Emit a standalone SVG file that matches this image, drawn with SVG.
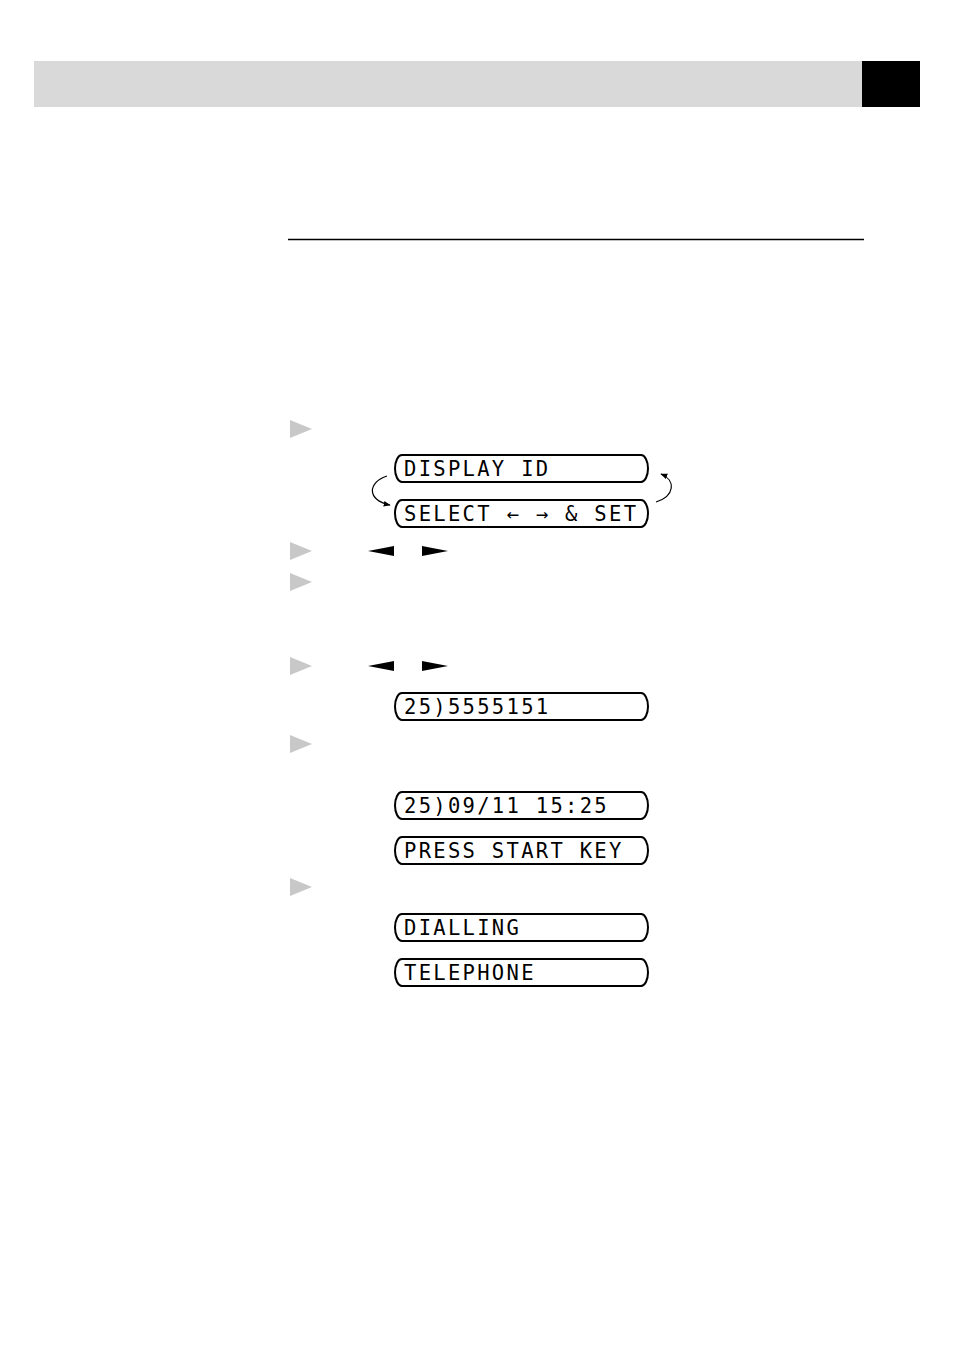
<svg xmlns="http://www.w3.org/2000/svg" width="954" height="1348" viewBox="0 0 954 1348">
<style>
.lcd{fill:#fff;stroke:#000;stroke-width:2}
.lt{font-family:"DejaVu Sans Mono","Liberation Mono",monospace;font-size:20.5px;letter-spacing:2.3px;fill:#000}
.bul{fill:#c8c8c8}
.con{fill:none;stroke:#000;stroke-width:1.2}
</style>
<defs>
<marker id="ah" viewBox="0 0 10 10" refX="9" refY="5" markerWidth="7" markerHeight="7" orient="auto" markerUnits="userSpaceOnUse">
<path d="M0,1 L10,5 L0,9 Z" fill="#000"/>
</marker>
</defs>
<rect x="34" y="61" width="828" height="46" fill="#d9d9d9"/>
<rect x="862" y="61" width="58" height="46" fill="#000"/>
<line x1="288" y1="239.5" x2="864" y2="239.5" stroke="#000" stroke-width="1.5"/>
<g id="bullets">
<polygon class="bul" points="290,420 312,429 290,438"/>
<polygon class="bul" points="290,542 312,551 290,560"/>
<polygon class="bul" points="290,573 312,582 290,591"/>
<polygon class="bul" points="290,657 312,666 290,675"/>
<polygon class="bul" points="290,735 312,744 290,753"/>
<polygon class="bul" points="290,878 312,887 290,896"/>
</g>
<g id="keys">
<polygon points="368,551 394,546 394,556" fill="#000"/>
<polygon points="422,546 448,551 422,556" fill="#000"/>
<polygon points="368,666 394,661 394,671" fill="#000"/>
<polygon points="422,661 448,666 422,671" fill="#000"/>
</g>
<g id="n1"><path class="lcd" d="M402,455 H641 A7,13.5 0 0 1 641,482 H402 A7,13.5 0 0 1 402,455 Z"/><text class="lt" x="404" y="476">DISPLAY ID</text></g>
<g id="n2"><path class="lcd" d="M402,500 H641 A7,13.5 0 0 1 641,527 H402 A7,13.5 0 0 1 402,500 Z"/><text class="lt" x="404" y="521">SELECT ← → &amp; SET</text></g>
<g id="n3"><path class="lcd" d="M402,693 H641 A7,13.5 0 0 1 641,720 H402 A7,13.5 0 0 1 402,693 Z"/><text class="lt" x="404" y="714">25)5555151</text></g>
<g id="n4"><path class="lcd" d="M402,792 H641 A7,13.5 0 0 1 641,819 H402 A7,13.5 0 0 1 402,792 Z"/><text class="lt" x="404" y="813">25)09/11 15:25</text></g>
<g id="n5"><path class="lcd" d="M402,837 H641 A7,13.5 0 0 1 641,864 H402 A7,13.5 0 0 1 402,837 Z"/><text class="lt" x="404" y="858">PRESS START KEY</text></g>
<g id="n6"><path class="lcd" d="M402,914 H641 A7,13.5 0 0 1 641,941 H402 A7,13.5 0 0 1 402,914 Z"/><text class="lt" x="404" y="935">DIALLING</text></g>
<g id="n7"><path class="lcd" d="M402,959 H641 A7,13.5 0 0 1 641,986 H402 A7,13.5 0 0 1 402,959 Z"/><text class="lt" x="404" y="980">TELEPHONE</text></g>
<g id="connectors">
<path class="con" d="M387,476 C368,482 366,500 390,505" marker-end="url(#ah)"/>
<path class="con" d="M656,502 C675,496 676,480 661,474" marker-end="url(#ah)"/>
</g>
</svg>
